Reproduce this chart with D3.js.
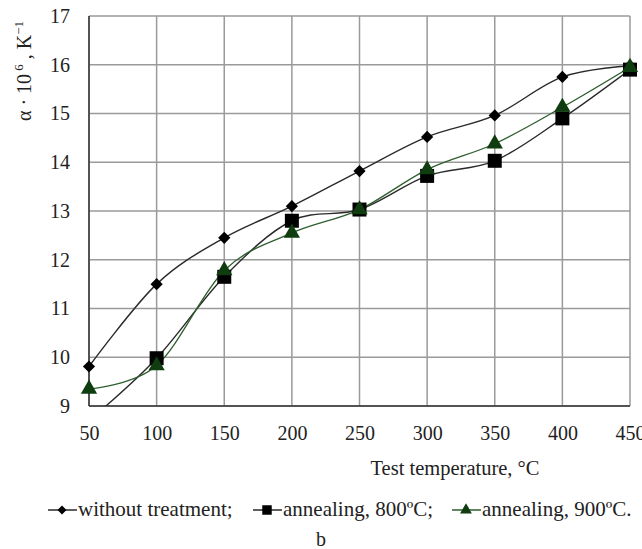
<!DOCTYPE html>
<html><head><meta charset="utf-8">
<script src="https://cdn.jsdelivr.net/npm/d3@7"></script>
<style>body{margin:0;background:#fff} svg text{font-family:'Liberation Serif','Times New Roman',Tinos,'DejaVu Serif',serif !important}</style>
</head><body>
<svg id="c" width="642" height="549"></svg>
<script>
const temps = [50,100,150,200,250,300,350,400,450];
const withoutTreatment = [9.81,11.5,12.45,13.1,13.82,14.52,14.96,15.75,15.98];
const anneal800 = [8.7,9.98,11.65,12.8,13.03,13.72,14.03,14.9,15.9];
const anneal900 = [9.35,9.83,11.78,12.55,13.03,13.85,14.38,15.13,15.95];
const xTicks = [50,100,150,200,250,300,350,400,450];
const yTicks = [9,10,11,12,13,14,15,16,17];

const FONT = "'Liberation Serif','Times New Roman',Tinos,'DejaVu Serif',serif";
const svg = d3.select("#c");
const L=89,R=630,T=16,B=406;
const x = d3.scaleLinear().domain([50,450]).range([L,R]);
const y = d3.scaleLinear().domain([9,17]).range([B,T]);

svg.append("g").selectAll("line").data(yTicks).join("line")
  .attr("x1",L).attr("x2",R).attr("y1",d=>y(d)).attr("y2",d=>y(d))
  .attr("stroke","#9a9a9a").attr("stroke-width",1.5);
svg.append("g").selectAll("line").data(xTicks).join("line")
  .attr("y1",T).attr("y2",B).attr("x1",d=>x(d)).attr("x2",d=>x(d))
  .attr("stroke","#9a9a9a").attr("stroke-width",1.5);
svg.append("line").attr("x1",L).attr("x2",L).attr("y1",T).attr("y2",B).attr("stroke","#333").attr("stroke-width",1.5);
svg.append("line").attr("x1",L).attr("x2",R).attr("y1",B).attr("y2",B).attr("stroke","#333").attr("stroke-width",1.5);

const ya = svg.append("g").attr("transform",`translate(${L},0)`).call(d3.axisLeft(y).tickValues(yTicks).tickSize(0).tickPadding(19).tickFormat(d3.format("d")));
ya.attr("font-family",FONT);
ya.select(".domain").remove();
ya.selectAll("text").attr("font-size",20).style("font-family",FONT).attr("fill","#222");
const xa = svg.append("g").attr("transform",`translate(0,${B})`).call(d3.axisBottom(x).tickValues(xTicks).tickSize(0).tickPadding(20).tickFormat(d3.format("d")));
xa.attr("font-family",FONT);
xa.select(".domain").remove();
xa.selectAll("text").attr("font-size",20).style("font-family",FONT).attr("fill","#222");

svg.append("defs").append("clipPath").attr("id","clip").append("rect").attr("x",L).attr("y",T).attr("width",R-L).attr("height",B-T);

const line = d3.line().x((d,i)=>x(temps[i])).y(d=>y(d)).curve(d3.curveCardinal.tension(0));
const series = [
  {v:withoutTreatment, color:"#2a2a2a", mcol:"#000", shape:"diamond", w:1.4},
  {v:anneal800, color:"#2a2a2a", mcol:"#000", shape:"square", w:1.4},
  {v:anneal900, color:"#2e5e2e", mcol:"#103d10", shape:"triangle", w:1.3}
];
const sym = {diamond:d3.symbol().type(d3.symbolDiamond2).size(95),
             square:d3.symbol().type(d3.symbolSquare).size(196),
             triangle:d3.symbol().type(d3.symbolTriangle).size(115)};
series.forEach(s=>{
  svg.append("path").attr("d",line(s.v)).attr("fill","none").attr("stroke",s.color).attr("stroke-width",s.w).attr("clip-path","url(#clip)");
});
series.forEach(s=>{
  svg.append("g").selectAll("path").data(s.v.map((v,i)=>[temps[i],v]).filter(d=>d[1]>=9)).join("path")
    .attr("d",sym[s.shape]()).attr("transform",d=>`translate(${x(d[0])},${y(d[1])})`).attr("fill",s.mcol);
});

const yt = svg.append("text").attr("transform","translate(31,71) rotate(-90)").attr("text-anchor","middle").style("font-family",FONT).attr("font-size",20).attr("fill","#222");
yt.append("tspan").text("α · 10");
yt.append("tspan").attr("font-size",13).attr("dy",-8).text(" 6");
yt.append("tspan").attr("dy",8).text(" , K");
yt.append("tspan").attr("font-size",13).attr("dy",-8).text("−1");

svg.append("text").attr("x",455).attr("y",475).attr("text-anchor","middle").style("font-family",FONT).attr("font-size",20.5).attr("fill","#222").text("Test temperature,  °C");

const leg = [
  {t:"without treatment;", x0:48, s:series[0]},
  {t:"annealing, 800ºC;", x0:253, s:series[1]},
  {t:"annealing, 900ºC.", x0:452, s:series[2]}
];
const ly=510;
const lsym = {diamond:d3.symbol().type(d3.symbolDiamond2).size(52),square:d3.symbol().type(d3.symbolSquare).size(90),triangle:d3.symbol().type(d3.symbolTriangle).size(60)};
leg.forEach(l=>{
  svg.append("line").attr("x1",l.x0).attr("x2",l.x0+29).attr("y1",ly).attr("y2",ly).attr("stroke",l.s.color).attr("stroke-width",1.5);
  svg.append("path").attr("d",lsym[l.s.shape]()).attr("transform",`translate(${l.x0+14},${ly})`).attr("fill",l.s.mcol);
  svg.append("text").attr("x",l.x0+30).attr("y",516).style("font-family",FONT).attr("font-size",21).attr("fill","#222").text(l.t);
});
svg.append("text").attr("x",321).attr("y",546).attr("text-anchor","middle").style("font-family",FONT).attr("font-size",20).attr("fill","#222").text("b");
</script>
</body></html>
